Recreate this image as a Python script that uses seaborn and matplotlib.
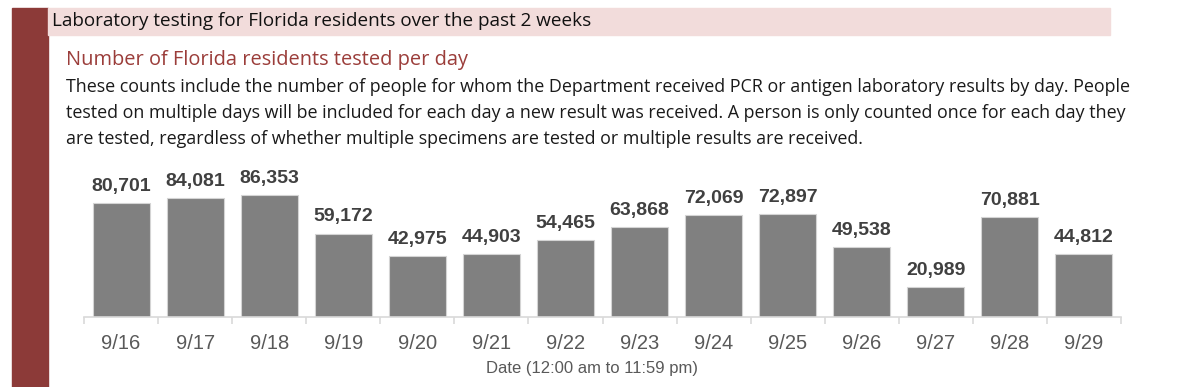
import pandas as pd
import matplotlib
matplotlib.use("Agg")
import matplotlib.pyplot as plt
from matplotlib.patches import Rectangle
from matplotlib.ticker import FixedLocator
import seaborn as sns

dates = ['9/16', '9/17', '9/18', '9/19', '9/20', '9/21', '9/22',
         '9/23', '9/24', '9/25', '9/26', '9/27', '9/28', '9/29']
tested = [80701, 84081, 86353, 59172, 42975, 44903, 54465,
          63868, 72069, 72897, 49538, 20989, 70881, 44812]

header = 'Laboratory testing for Florida residents over the past 2 weeks'
subtitle = 'Number of Florida residents tested per day'
body = ['These counts include the number of people for whom the Department received PCR or antigen laboratory results by day. People',
        'tested on multiple days will be included for each day a new result was received. A person is only counted once for each day they',
        'are tested, regardless of whether multiple specimens are tested or multiple results are received.']
xlabel = 'Date (12:00 am to 11:59 pm)'

W, H = 1200, 387
BAR_RED = '#8C3A38'
PINK = '#F2DCDB'
TEXT_FONT = ['Open Sans', 'Liberation Sans', 'DejaVu Sans']

df = pd.DataFrame({'date': dates, 'tested': tested})

sns.set_theme(style='white')
plt.rcParams['font.family'] = ['Liberation Sans', 'DejaVu Sans']

fig = plt.figure(figsize=(W / 100, H / 100), dpi=100)


def fx(px):
    return px / W


def fy(py):
    return 1 - py / H


# side bar and header band
fig.patches.append(Rectangle((fx(12), 0), fx(48) - fx(12), fy(7.5), transform=fig.transFigure,
                             color=BAR_RED, zorder=0))
fig.patches.append(Rectangle((fx(48), fy(35)), fx(1110) - fx(48), fy(7.5) - fy(35),
                             transform=fig.transFigure, color=PINK, zorder=0))

fig.text(fx(52), fy(21.5), header, fontsize=13.6, color='#111111', va='center', ha='left',
         family=TEXT_FONT)
fig.text(fx(66), fy(60), subtitle, fontsize=14.4, color='#9B3D3A', va='center', ha='left',
         family=TEXT_FONT)
for i, line in enumerate(body):
    fig.text(fx(66), fy(86.5 + i * 26.5), line, fontsize=12.9, color='#1a1a1a',
             va='center', ha='left', family=TEXT_FONT)

# chart
ax = fig.add_axes([fx(84), fy(317), fx(1121) - fx(84), (317 - 176) / H])
sns.barplot(data=df, x='date', y='tested', color='#808080', saturation=1, width=0.77,
            edgecolor='#D4D4D4', linewidth=0.8, ax=ax)

ax.set_xlim(-0.5, len(dates) - 0.5)
ax.set_ylim(0, 100000)
ax.set_yticks([])
ax.set_ylabel('')
for side in ['top', 'right', 'left']:
    ax.spines[side].set_visible(False)
ax.spines['bottom'].set_color('#D9D9D9')
ax.spines['bottom'].set_linewidth(1.2)

ax.tick_params(axis='x', which='major', length=0, pad=12.5, labelsize=14.5, labelcolor='#595959')
ax.xaxis.set_minor_locator(FixedLocator([i - 0.5 for i in range(len(dates) + 1)]))
ax.tick_params(axis='x', which='minor', length=5, width=1.2, color='#D9D9D9', bottom=True)

for i, v in enumerate(tested):
    ax.annotate(f'{v:,}', (i, v), xytext=(0, 12), textcoords='offset points',
                ha='center', va='center', fontsize=14, fontweight='bold', color='#404040')

ax.set_xlabel(xlabel, fontsize=12, color='#595959')
ax.xaxis.set_label_coords((592 - 84) / 1037, (317 - 368) / 141)
ax.xaxis.label.set_va('center')

fig.savefig('out.png', dpi=100)
